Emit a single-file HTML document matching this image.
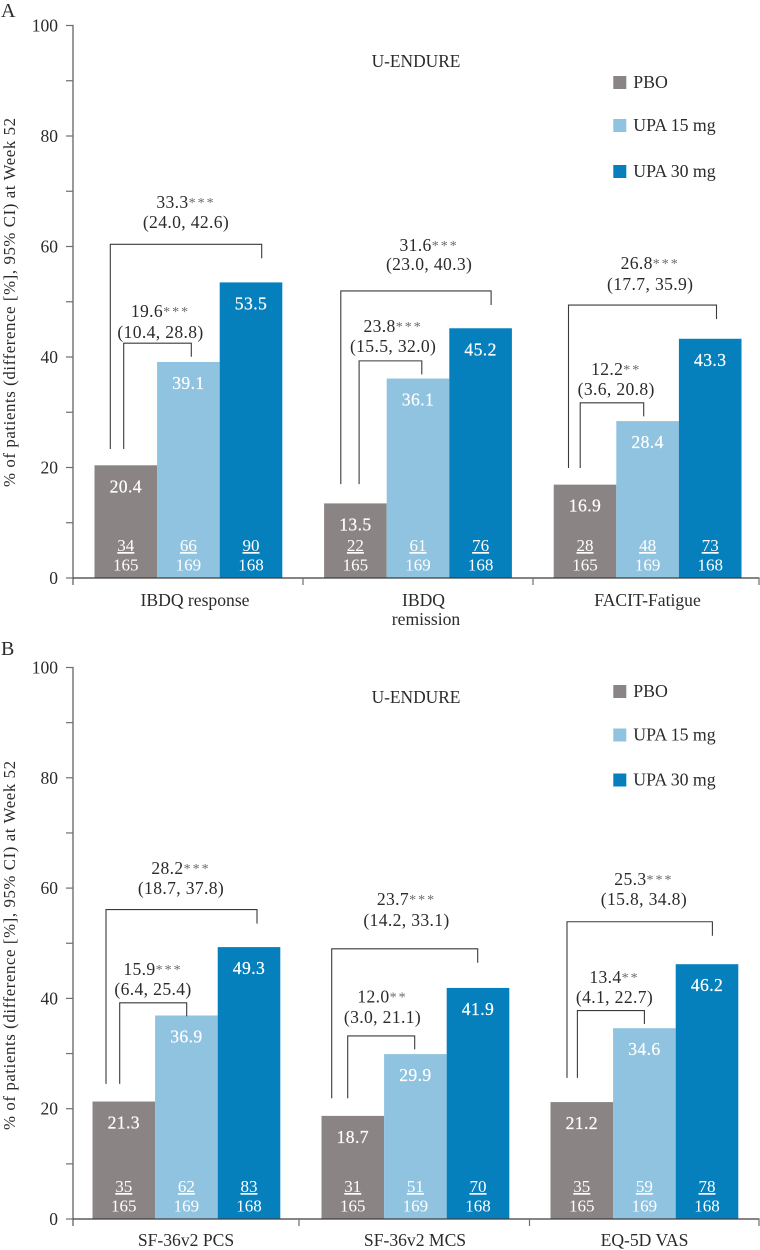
<!DOCTYPE html>
<html lang="en">
<head>
<meta charset="utf-8">
<title>U-ENDURE patient-reported outcomes at Week 52</title>
<style>
html,body{margin:0;padding:0;background:#fff;}
body{width:760px;height:1250px;overflow:hidden;}
svg{display:block;}
text{font-family:"Liberation Serif",serif;font-size:17.6px;fill:#2b2b2b;}
.inbar{fill:#fff;letter-spacing:.4px;stroke:#fff;stroke-width:.2px;}
.incount{fill:#fff;font-size:17px;}
.note{letter-spacing:.35px;}
.star{font-size:14px;fill:#6a6a6a;letter-spacing:2px;}
</style>
</head>
<body>
<svg id="chart" xmlns="http://www.w3.org/2000/svg" width="760" height="1250" viewBox="0 0 760 1250"></svg>
<script>
/* ---------- shared data ---------- */
const yTickLabels = [0, 20, 40, 60, 80, 100];
const yMinorTicks = [10, 30, 50, 70, 90];
const seriesNames = ['PBO', 'UPA 15 mg', 'UPA 30 mg'];
const seriesColors = ['#8a8484', '#8fc3e0', '#0580bd'];
const yAxisTitle = '% of patients (difference [%], 95% CI) at Week 52';
const studyLabel = 'U-ENDURE';
const denominators = [165, 169, 168];

/* ---------- panel A data ---------- */
const categoriesA = [['IBDQ response'], ['IBDQ', 'remission'], ['FACIT-Fatigue']];
const pboA = [20.4, 13.5, 16.9];
const upa15A = [39.1, 36.1, 28.4];
const upa30A = [53.5, 45.2, 43.3];
const pboCountsA = [34, 22, 28];
const upa15CountsA = [66, 61, 48];
const upa30CountsA = [90, 76, 73];
const outerDiffA = [['33.3', '***', '(24.0, 42.6)'], ['31.6', '***', '(23.0, 40.3)'], ['26.8', '***', '(17.7, 35.9)']];
const innerDiffA = [['19.6', '***', '(10.4, 28.8)'], ['23.8', '***', '(15.5, 32.0)'], ['12.2', '**', '(3.6, 20.8)']];
const outerLevelA = [60.4, 51.95, 49.4];
const innerLevelA = [42.5, 39.3, 31.7];

/* ---------- panel B data ---------- */
const categoriesB = [['SF-36v2 PCS'], ['SF-36v2 MCS'], ['EQ-5D VAS']];
const pboB = [21.3, 18.7, 21.2];
const upa15B = [36.9, 29.9, 34.6];
const upa30B = [49.3, 41.9, 46.2];
const pboCountsB = [35, 31, 35];
const upa15CountsB = [62, 51, 59];
const upa30CountsB = [83, 70, 78];
const outerDiffB = [['28.2', '***', '(18.7, 37.8)'], ['23.7', '***', '(14.2, 33.1)'], ['25.3', '***', '(15.8, 34.8)']];
const innerDiffB = [['15.9', '***', '(6.4, 25.4)'], ['12.0', '**', '(3.0, 21.1)'], ['13.4', '**', '(4.1, 22.7)']];
const outerLevelB = [56.1, 49.0, 53.9];
const innerLevelB = [39.2, 33.2, 37.8];

/* ---------- layout, kept apart from the data ---------- */
const layoutA = {
  letter: 'A', letterY: 17, yZero: 578, yFull: 25.5, band: 229.6, pad: 21.5, studyY: 67,
  titleY: 302.5, catY: [606, 625], legendY: [82.5, 125.5, 171.5],
  xTicks: [303, 533, 759],
  catX: [[195], [423.5, 426], [647.5]],
  legs: [[15.8, 29.2, 96.8, 167.2], [16.7, 35, 97.7, 167], [14.8, 26.5, 90, 162.8]],
  outerFoot: [23.35, 17, 19.9],
  outerNoteX: [91.5, 105, 96.5], innerNoteX: [66, 69, 62.5],
  outerNoteY: [[-36.3, -16.3], [-40, -21], [-36, -15]],
  innerNoteY: [[-26.3, -5.3], [-29, -8.7], [-28, -8]]
};
const layoutB = {
  letter: 'B', letterY: 655, yZero: 1219, yFull: 667.5, band: 229.0, pad: 19.5, studyY: 703,
  titleY: 945.5, catY: [1246], legendY: [691.5, 735, 780],
  xTicks: [299, 529.5, 759],
  catX: [[186], [415], [644.5]],
  legs: [[13.5, 27.2, 94.2, 164.5], [10.2, 26.2, 93.2, 156.2], [16.5, 26.9, 93.9, 161.9]],
  outerFoot: [24.5, 21.9, 25.6],
  outerNoteX: [88.5, 85, 93.4], innerNoteX: [60.5, 61, 64],
  outerNoteY: [[-35.7, -15.7], [-43.7, -22.7], [-36.7, -16.7]],
  innerNoteY: [[-27.7, -7.7], [-33.4, -13], [-27.5, -7.5]]
};

const AXIS_X = 73;
const AXIS_END = 759.5;
const BAR_WIDTH = 62.6;
const chart = document.getElementById('chart');

function make(tag, parent) {
  const el = document.createElementNS('http://www.w3.org/2000/svg', tag);
  parent.appendChild(el);
  return el;
}
function setLine(el, x1, y1, x2, y2, color, width) {
  el.setAttribute('x1', x1);
  el.setAttribute('y1', y1);
  el.setAttribute('x2', x2);
  el.setAttribute('y2', y2);
  el.setAttribute('stroke', color);
  el.setAttribute('stroke-width', width);
}
function setText(el, x, y, content, anchor) {
  el.setAttribute('x', x);
  el.setAttribute('y', y);
  el.setAttribute('text-anchor', anchor || 'middle');
  el.textContent = content;
}

function drawPanel(L, panelData) {
  const yScale = v => L.yZero - v * (L.yZero - L.yFull) / 100;
  const bandStart = i => AXIS_X + L.band * i;
  const barX = (i, s) => bandStart(i) + L.pad + BAR_WIDTH * s;
  const key = L.letter.toLowerCase();

  const panel = make('g', chart);
  
  

  const letter = make('text', panel);
  
  
  setText(letter, 1, L.letterY, L.letter, 'start');
  letter.setAttribute('style', 'font-size:20px');

  const yTitle = make('text', panel);
  
  
  setText(yTitle, 0, 0, yAxisTitle);
  yTitle.setAttribute('transform', 'translate(15 ' + L.titleY + ') rotate(-90)');
  yTitle.setAttribute('textLength', '369');
  yTitle.setAttribute('style', 'font-size:16.8px');

  /* bars */
  panelData.series.forEach(function (values, s) {
    values.forEach(function (v, i) {
      const bar = make('rect', panel);
      
      
      bar.setAttribute('x', barX(i, s));
      bar.setAttribute('y', yScale(v));
      bar.setAttribute('width', BAR_WIDTH);
      bar.setAttribute('height', L.yZero - yScale(v));
      bar.setAttribute('fill', seriesColors[s]);

      const cx = barX(i, s) + BAR_WIDTH / 2;
      const valueLabel = make('text', panel);
      
      
      setText(valueLabel, cx, yScale(v) + 27, v.toFixed(1));
      valueLabel.setAttribute('class', 'inbar');

      const count = make('text', panel);
      
      
      setText(count, cx, L.yZero - 27, panelData.counts[s][i]);
      count.setAttribute('class', 'incount');
      count.setAttribute('text-decoration', 'underline');

      const denom = make('text', panel);
      
      
      setText(denom, cx, L.yZero - 7.5, denominators[s]);
      denom.setAttribute('class', 'incount');
    });
  });

  /* y axis */
  const yAxis = make('line', panel);
  
  
  setLine(yAxis, AXIS_X, yScale(100) - 0.6, AXIS_X, L.yZero + 7, '#6f6f71', 1.4);

  yTickLabels.forEach(function (t) {
    const tick = make('line', panel);
    
    
    setLine(tick, AXIS_X - 7, yScale(t), AXIS_X, yScale(t), '#6f6f71', 1.2);

    const label = make('text', panel);
    
    
    setText(label, AXIS_X - 15, yScale(t) + 6, t, 'end');
    label.setAttribute('style', 'font-size:17.5px');
  });
  yMinorTicks.forEach(function (t) {
    const tick = make('line', panel);
    
    
    setLine(tick, AXIS_X - 7, yScale(t), AXIS_X, yScale(t), '#6f6f71', 1.2);
  });

  /* x axis */
  const xAxis = make('line', panel);
  
  
  setLine(xAxis, AXIS_X, L.yZero, AXIS_END, L.yZero, '#3c3c3e', 1.3);

  L.xTicks.forEach(function (tx) {
    const tick = make('line', panel);
    
    
    setLine(tick, tx, L.yZero, tx, L.yZero + 7, '#6f6f71', 1.2);
  });

  panelData.categories.forEach(function (lines, i) {
    lines.forEach(function (line, k) {
      const cat = make('text', panel);
      
      
      setText(cat, L.catX[i][k], L.catY[k], line);
    });
  });

  /* brackets and difference notes */
  panelData.categories.forEach(function (c, i) {
    const legs = L.legs[i].map(function (o) { return bandStart(i) + L.pad + o; });
    const outerTop = yScale(panelData.outerLevel[i]);
    const innerTop = yScale(panelData.innerLevel[i]);
    const foot = yScale(L.outerFoot[i]);

    const outer = make('path', panel);
    
    
    outer.setAttribute('d', 'M' + legs[0] + ' ' + foot + 'V' + outerTop + 'H' + legs[3] + 'V' + (outerTop + 14));
    outer.setAttribute('fill', 'none');
    outer.setAttribute('stroke', '#3a3a3c');
    outer.setAttribute('stroke-width', '1.1');

    const inner = make('path', panel);
    
    
    inner.setAttribute('d', 'M' + legs[1] + ' ' + foot + 'V' + innerTop + 'H' + legs[2] + 'V' + (innerTop + 13.5));
    inner.setAttribute('fill', 'none');
    inner.setAttribute('stroke', '#3a3a3c');
    inner.setAttribute('stroke-width', '1.1');

    [
      [panelData.outerDiff[i], L.outerNoteX[i], L.outerNoteY[i], outerTop],
      [panelData.innerDiff[i], L.innerNoteX[i], L.innerNoteY[i], innerTop]
    ].forEach(function (n) {
      const nx = bandStart(i) + L.pad + n[1];
      const diff = make('text', panel);
      
      
      setText(diff, nx, n[3] + n[2][0], n[0][0]);
      diff.setAttribute('class', 'note');
      const stars = make('tspan', diff);
      stars.setAttribute('class', 'star');
      stars.setAttribute('dy', '-1');
      stars.textContent = n[0][1];

      const ci = make('text', panel);
      
      
      setText(ci, nx, n[3] + n[2][1], n[0][2]);
      ci.setAttribute('class', 'note');
    });
  });

  /* header and legend */
  const study = make('text', panel);
  
  
  setText(study, 416, L.studyY, studyLabel);
  study.setAttribute('style', 'font-size:17.4px');

  seriesNames.forEach(function (name, s) {
    const swatch = make('rect', panel);
    
    
    swatch.setAttribute('x', 613.3);
    swatch.setAttribute('y', L.legendY[s] - 6.5);
    swatch.setAttribute('width', 13);
    swatch.setAttribute('height', 13);
    swatch.setAttribute('fill', seriesColors[s]);

    const entry = make('text', panel);
    
    
    setText(entry, 633.3, L.legendY[s] + 5.5, name, 'start');
    entry.setAttribute('style', 'font-size:17.8px');
  });
}

drawPanel(layoutA, {
  categories: categoriesA,
  series: [pboA, upa15A, upa30A],
  counts: [pboCountsA, upa15CountsA, upa30CountsA],
  outerDiff: outerDiffA,
  innerDiff: innerDiffA,
  outerLevel: outerLevelA,
  innerLevel: innerLevelA
});
drawPanel(layoutB, {
  categories: categoriesB,
  series: [pboB, upa15B, upa30B],
  counts: [pboCountsB, upa15CountsB, upa30CountsB],
  outerDiff: outerDiffB,
  innerDiff: innerDiffB,
  outerLevel: outerLevelB,
  innerLevel: innerLevelB
});
</script>
</body>
</html>
